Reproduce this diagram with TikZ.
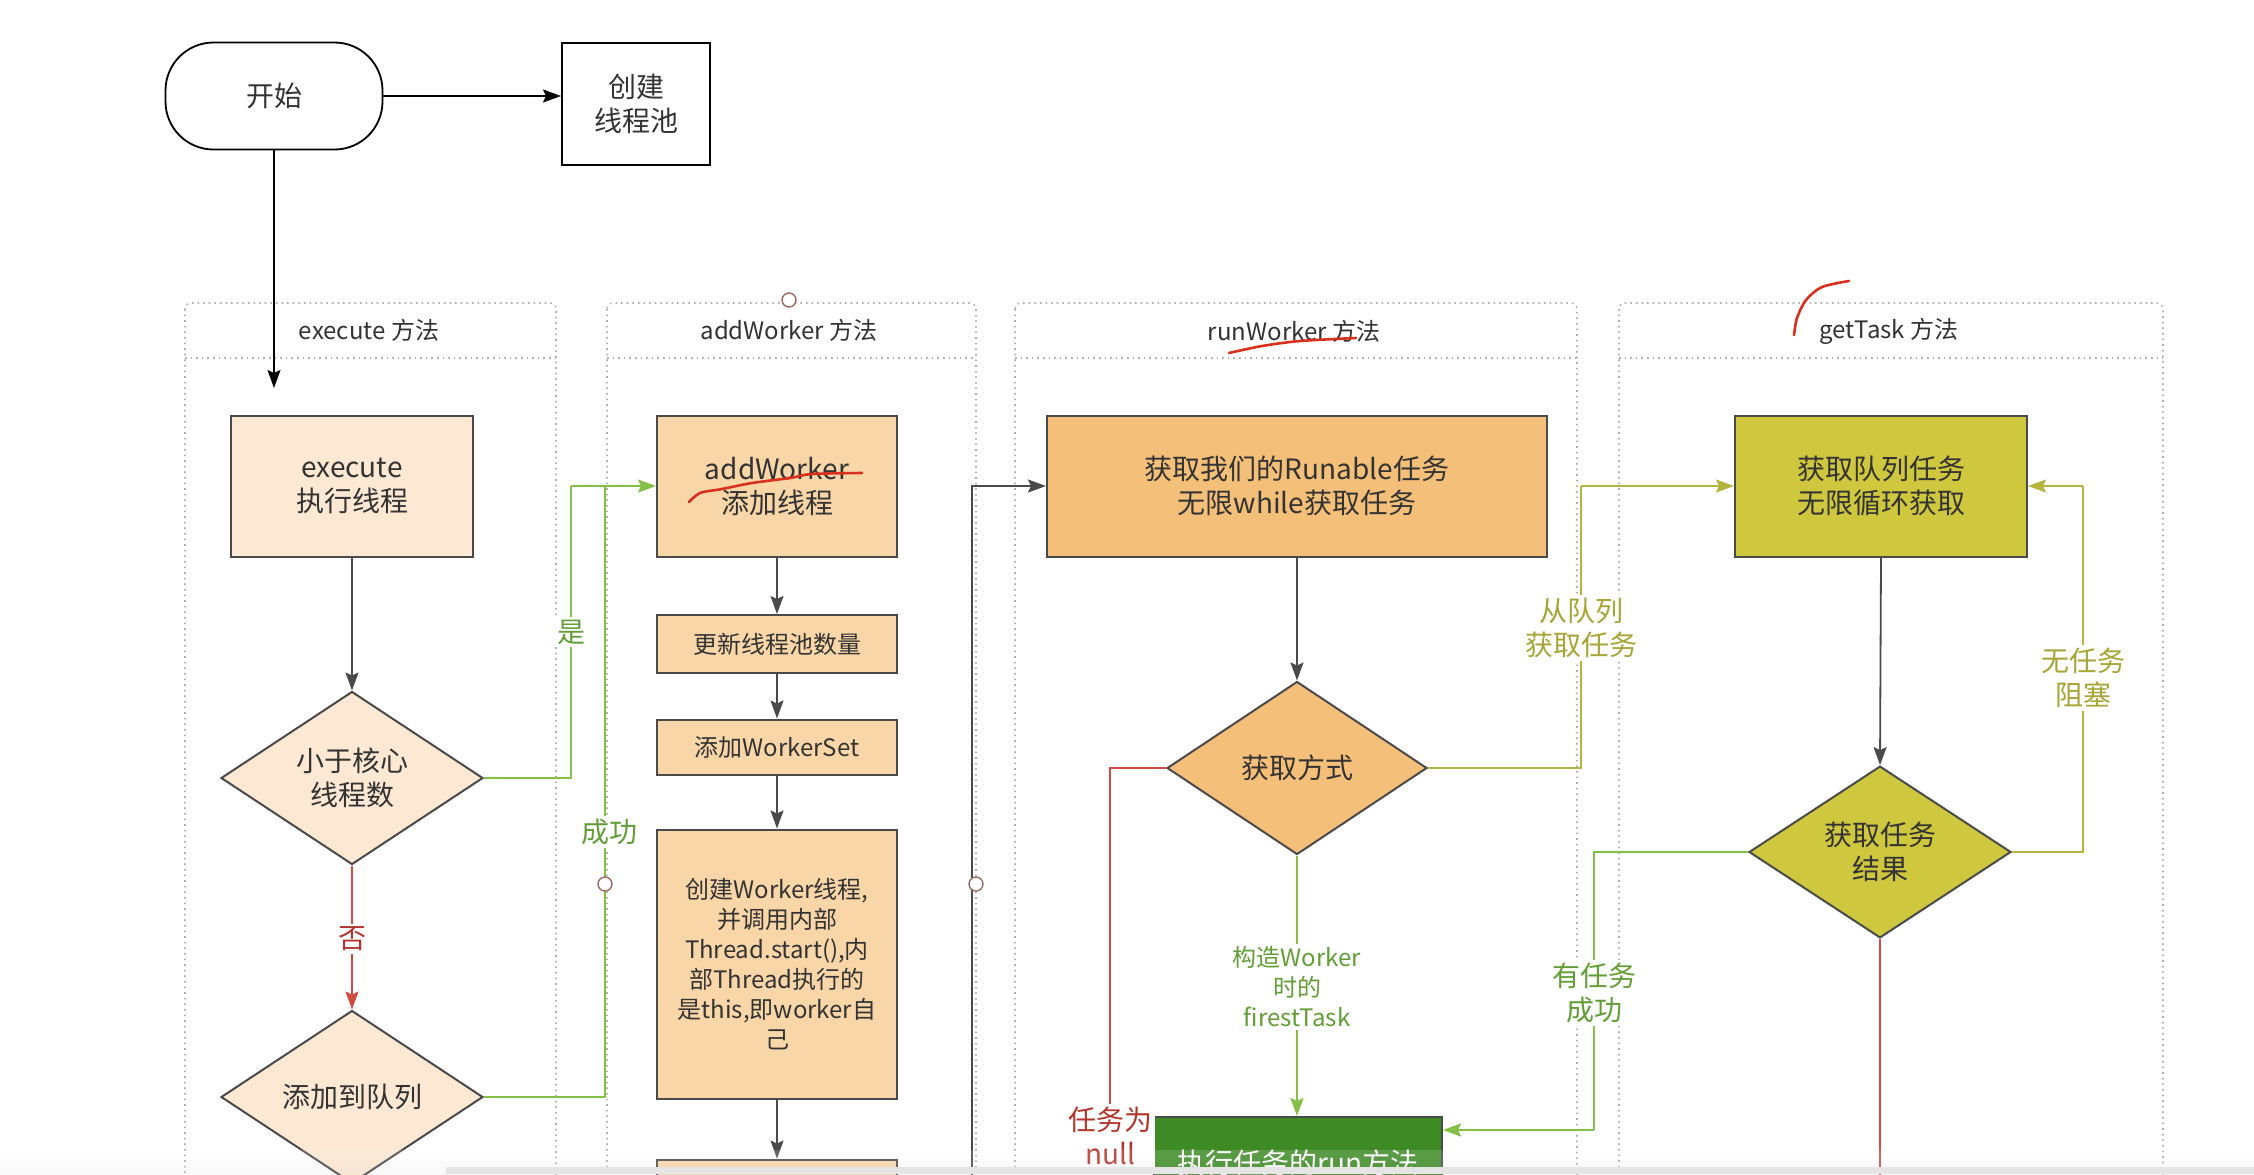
\documentclass[tikz,border=0pt]{standalone}
\usepackage{fontspec}
\setmainfont{Noto Sans CJK SC}
\usetikzlibrary{shapes.geometric,arrows.meta,calc}
\definecolor{lanegray}{HTML}{B0B0B0}
\definecolor{boxline}{HTML}{4A4A4A}
\definecolor{txt}{HTML}{333333}
\definecolor{fillA}{HTML}{FCE8D3}
\definecolor{fillB}{HTML}{F9D6A8}
\definecolor{fillC}{HTML}{F4BF79}
\definecolor{fillD}{HTML}{CFC73D}
\definecolor{fillE}{HTML}{3E8B26}
\definecolor{lgreen}{HTML}{85C046}
\definecolor{tgreen}{HTML}{629E36}
\definecolor{lolive}{HTML}{B5B43E}
\definecolor{tolive}{HTML}{A6A536}
\definecolor{lred}{HTML}{D24B40}
\definecolor{tred}{HTML}{B3352C}
\definecolor{pen}{HTML}{D8311E}
\definecolor{handle}{HTML}{9C6A62}
\begin{document}
\begin{tikzpicture}[x=0.5pt,y=-0.5pt,
  tip/.style={-{Stealth[length=9pt,width=6.5pt,inset=1.5pt]}},
  lane/.style={draw=lanegray, dotted, line width=0.8pt, rounded corners=3pt},
  lanetitle/.style={font=\fontsize{12}{14}\selectfont, text=txt},
  box/.style={rectangle, draw=boxline, line width=1pt, text=txt, align=center, inner sep=0pt},
  dia/.style={diamond, draw=boxline, line width=1pt, text=txt, align=center, inner sep=0pt},
  big/.style={font=\fontsize{14}{17}\selectfont},
  small/.style={font=\fontsize{12}{15}\selectfont},
  conn/.style={draw=boxline, line width=0.9pt},
  sline/.style={draw=black, line width=0.9pt},
  gline/.style={draw=lgreen, line width=0.9pt},
  oline/.style={draw=lolive, line width=0.9pt},
  rline/.style={draw=lred, line width=0.9pt},
  lbl/.style={fill=white, inner sep=1.5pt, align=center},
  penmark/.style={draw=pen, line width=1.3pt, line cap=round},
  hdl/.style={draw=handle, line width=0.7pt, fill=white}
]
\useasboundingbox (0,0) rectangle (2254,1174);
\fill[white] (0,0) rectangle (2254,1174);
\clip (0,0) rectangle (2254,1174);

% swimlanes
\draw[lane] (185,303) rectangle (556,1220);
\draw[lane] (185,358) -- (556,358);
\draw[lane] (607,303) rectangle (976,1220);
\draw[lane] (607,358) -- (976,358);
\draw[lane] (1015,303) rectangle (1577,1220);
\draw[lane] (1015,358) -- (1577,358);
\draw[lane] (1619,303) rectangle (2163,1220);
\draw[lane] (1619,358) -- (2163,358);
\node[lanetitle] (t1) at (369,330) {execute 方法};
\node[lanetitle] (t2) at (789,330) {addWorker 方法};
\node[lanetitle] (t3) at (1294,331) {runWorker 方法};
\node[lanetitle] (t4) at (1889,331) {getTask 方法};

% top
\node[draw=black, line width=0.9pt, rounded corners=24pt, minimum width=108.5pt, minimum height=53.5pt, big, text=txt] (start) at (274,96) {开始};
\node[box, draw=black, minimum width=74pt, minimum height=61pt, big] (pool) at (636,104) {创建\\线程池};

% execute lane
\node[box, fill=fillA, minimum width=121pt, minimum height=70.5pt, big] (exec) at (352,486) {execute\\执行线程};
\node[dia, fill=fillA, minimum width=131pt, minimum height=86.5pt, big] (d1) at (352,778) {小于核心\\线程数};
\node[dia, fill=fillA, minimum width=131pt, minimum height=86.5pt, big] (d2) at (352,1097) {添加到队列};

% addWorker lane
\node[box, fill=fillB, minimum width=120pt, minimum height=70.5pt, big] (aw) at (777,486) {addWorker\\添加线程};
\node[box, fill=fillB, minimum width=120pt, minimum height=29pt, small] (upd) at (777,644) {更新线程池数量};
\node[box, fill=fillB, minimum width=120pt, minimum height=27.5pt, small] (wset) at (777,747) {添加WorkerSet};
\node[box, fill=fillB, minimum width=120pt, minimum height=134.5pt, small] (cw) at (777,964) {创建Worker线程,\\并调用内部\\Thread.start(),内\\部Thread执行的\\是this,即worker自\\己};
\node[box, fill=fillB, minimum width=120pt, minimum height=70.5pt] (nxt) at (777,1230) {};

% runWorker lane
\node[box, fill=fillC, minimum width=250pt, minimum height=70.5pt, big] (rw) at (1297,486) {获取我们的Runable任务\\无限while获取任务};
\node[dia, fill=fillC, minimum width=130pt, minimum height=86.5pt, big] (d3) at (1297,768) {获取方式};
\node[box, fill=fillE, minimum width=144pt, minimum height=46pt, big, text=white] (run) at (1298,1163) {执行任务的run方法};

% getTask lane
\node[box, fill=fillD, minimum width=146pt, minimum height=70.5pt, big] (gt) at (1881,486) {获取队列任务\\无限循环获取};
\node[dia, fill=fillD, minimum width=131pt, minimum height=85.5pt, big] (d4) at (1880,852) {获取任务\\结果};

% coordinates
\coordinate (e0) at (275,388);
\coordinate (j1) at (571,486);
\coordinate (j2) at (605,486);
\coordinate (b1) at (972,1200);
\coordinate (j3) at (1581,486);
\coordinate (j4) at (2083,486);
\coordinate (j5) at (1594,1130);
\coordinate (b2) at (1880,1200);

% connectors
\draw[sline,tip] (start.east) -- (start.east -| pool.west);
\draw[sline,tip] (start.south) -- (start.south |- e0);
\draw[conn,tip] (exec.south) -- (d1.north);
\draw[rline,tip] (d1.south) -- (d2.north);
\draw[gline] (d1.east) -| (j1);
\draw[gline] (d2.east) -| (j2);
\draw[gline,tip] (j1) -- (aw.west);
\draw[conn,tip] (aw.south) -- (upd.north);
\draw[conn,tip] (upd.south) -- (wset.north);
\draw[conn,tip] (wset.south) -- (cw.north);
\draw[conn,tip] (cw.south) -- (nxt.north);
\draw[conn,tip] (b1) |- (rw.west);
\draw[conn,tip] (rw.south) -- (d3.north);
\node[big, text=tred, lbl] (nulllbl) at (1110,1136) {任务为\\null};
\draw[rline] (d3.west) -| (nulllbl.north);
\draw[gline,tip] (d3.south) -- (d3.south |- run.north);
\draw[oline] (d3.east) -| (j3);
\draw[oline,tip] (j3) -- (gt.west);
\draw[conn,tip] (gt.south) -- (d4.north);
\draw[oline] (d4.east) -| (j4);
\draw[oline,tip] (j4) -- (gt.east);
\draw[gline] (d4.west) -| (j5);
\draw[gline,tip] (j5) -- (j5 -| run.east);
\draw[rline] (d4.south) -- (b2);

% labels
\node[lbl, big, text=tred] (lno) at (352,939) {否};
\node[lbl, big, text=tgreen] (lyes) at (571,632) {是};
\node[lbl, big, text=tgreen] (lok) at (609,832) {成功};
\node[lbl, small, text=tgreen] (lfirst) at (1297,987) {构造Worker\\时的\\firestTask};
\node[lbl, big, text=tolive] (lqueue) at (1581,628) {从队列\\获取任务};
\node[lbl, big, text=tolive] (lblock) at (2083,678) {无任务\\阻塞};
\node[lbl, big, text=tgreen] (lhas) at (1594,993) {有任务\\成功};

% selection handles
\draw[hdl] (789,300) circle (3.5pt);
\draw[hdl] (605,884) circle (3.5pt);
\draw[hdl] (976,884) circle (3.5pt);

% hand-drawn pen marks
\draw[penmark] plot[smooth] coordinates {(689,502) (700,493) (722,489) (752,483) (790,478) (812,474) (862,473)};
\draw[penmark] plot[smooth] coordinates {(1229,353) (1262,346) (1300,341) (1356,338)};
\draw[penmark] plot[smooth] coordinates {(1794,335) (1797,318) (1806,300) (1822,287) (1849,281)};

% screen bottom bar
\shade[top color=white, bottom color=gray!30, opacity=0.15] (0,1150) rectangle (2254,1174);
\fill[gray!20] (446,1167) rectangle (2254,1174);
\end{tikzpicture}
\end{document}
